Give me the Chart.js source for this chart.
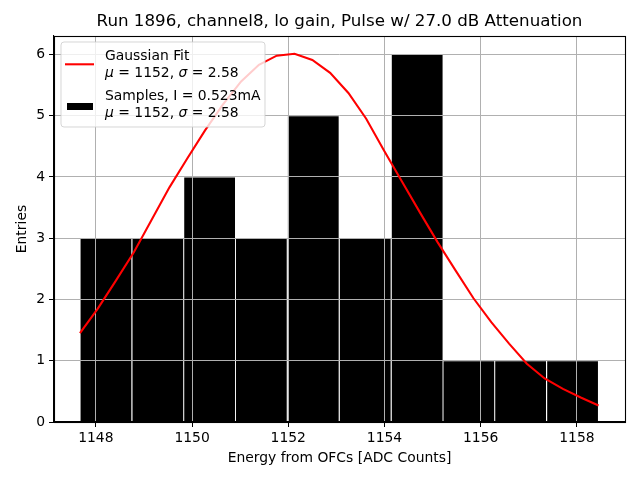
<!DOCTYPE html>
<html><head><meta charset="utf-8">
<script src="https://cdn.jsdelivr.net/npm/chart.js@4"></script>
<style>html,body{margin:0;padding:0;background:#fff}</style>
</head><body>
<canvas id="c" width="640" height="480"></canvas>
<script>
const titleText = "Run 1896, channel8, lo gain, Pulse w/ 27.0 dB Attenuation";
const xAxisLabel = "Energy from OFCs [ADC Counts]";
const yAxisLabel = "Entries";
const binEdges = [1147.67, 1148.75, 1149.83, 1150.90, 1151.98, 1153.06, 1154.14, 1155.22, 1156.29, 1157.37, 1158.45];
const binCounts = [3, 3, 4, 3, 5, 3, 6, 1, 1, 1];
const fitX = [1147.67, 1148.04, 1148.41, 1148.79, 1149.16, 1149.53, 1149.90, 1150.27, 1150.64, 1151.02,
              1151.39, 1151.76, 1152.13, 1152.50, 1152.87, 1153.25, 1153.62, 1153.99, 1154.36, 1154.73,
              1155.10, 1155.48, 1155.85, 1156.22, 1156.59, 1156.96, 1157.33, 1157.71, 1158.08, 1158.45];
const fitY = [1.45, 1.85, 2.30, 2.77, 3.30, 3.83, 4.30, 4.76, 5.18, 5.56,
              5.83, 5.98, 6.01, 5.91, 5.70, 5.37, 4.95, 4.43, 3.93, 3.43,
              2.94, 2.47, 2.02, 1.63, 1.28, 0.95, 0.71, 0.54, 0.40, 0.27];
const xTicks = [1148, 1150, 1152, 1154, 1156, 1158];
const yTicks = [0, 1, 2, 3, 4, 5, 6];
const xRange = [1147.13, 1159.0];
const yRange = [0, 6.3];
const legendFitLabel = ["Gaussian Fit", "μ = 1152, σ = 2.58"];
const legendSampleLabel = ["Samples, I = 0.523mA", "μ = 1152, σ = 2.58"];

const FONT = '"DejaVu Sans", sans-serif';
const FS = 13.9;
const barData = binCounts.map((c, i) => ({x: (binEdges[i] + binEdges[i + 1]) / 2, y: c}));
const fitData = fitX.map((x, i) => ({x: x, y: fitY[i]}));

function drawRich(ctx, text, x, y) {
  const parts = text.split(/([μσ])/);
  let cx = x;
  for (const p of parts) {
    if (!p) continue;
    ctx.font = (p === 'μ' || p === 'σ' ? 'italic ' : '') + FS + 'px ' + FONT;
    ctx.fillText(p, cx, y);
    cx += ctx.measureText(p).width;
  }
}

const overlay = {
  id: 'overlay',
  beforeDatasetDraw(chart, args) {
    if (args.index === 0) return false;
  },
  afterDraw(chart) {
    const ctx = chart.ctx;
    const a = chart.chartArea;
    ctx.save();
    ctx.beginPath();
    ctx.rect(a.left, a.top, a.right - a.left, a.bottom - a.top);
    ctx.clip();
    chart.getDatasetMeta(0).controller.draw();
    ctx.restore();
    ctx.save();
    ctx.strokeStyle = '#000';
    ctx.lineWidth = 1.1;
    ctx.strokeRect(Math.round(a.left) + 0.5, Math.round(a.top) + 0.5,
                   Math.round(a.right - a.left), Math.round(a.bottom - a.top));
    ctx.restore();
    ctx.save();
    const lx = 61, ly = 42, lw = 204, lh = 85, r = 3;
    ctx.beginPath();
    ctx.moveTo(lx + r, ly);
    ctx.arcTo(lx + lw, ly, lx + lw, ly + lh, r);
    ctx.arcTo(lx + lw, ly + lh, lx, ly + lh, r);
    ctx.arcTo(lx, ly + lh, lx, ly, r);
    ctx.arcTo(lx, ly, lx + lw, ly, r);
    ctx.closePath();
    ctx.fillStyle = 'rgba(255,255,255,0.8)';
    ctx.fill();
    ctx.strokeStyle = 'rgba(204,204,204,0.8)';
    ctx.lineWidth = 1;
    ctx.stroke();
    ctx.strokeStyle = '#ff0000';
    ctx.lineWidth = 2.08;
    ctx.beginPath();
    ctx.moveTo(65, 64.3);
    ctx.lineTo(94, 64.3);
    ctx.stroke();
    ctx.fillStyle = '#000';
    ctx.fillRect(67, 103, 26, 7);
    ctx.textBaseline = 'alphabetic';
    ctx.textAlign = 'left';
    drawRich(ctx, legendFitLabel[0], 105, 59.5);
    drawRich(ctx, legendFitLabel[1], 105, 76.5);
    drawRich(ctx, legendSampleLabel[0], 105, 99.5);
    drawRich(ctx, legendSampleLabel[1], 105, 116.8);
    ctx.restore();
  }
};

new Chart(document.getElementById('c'), {
  type: 'bar',
  data: {
    datasets: [
      {type: 'line', data: fitData, borderColor: '#ff0000', borderWidth: 2.08,
       pointRadius: 0, tension: 0, fill: false, order: 0},
      {type: 'bar', data: barData, backgroundColor: '#000000', borderColor: '#ffffff',
       borderWidth: 0.8, barPercentage: 1, categoryPercentage: 1, order: 1}
    ]
  },
  options: {
    responsive: false,
    animation: false,
    devicePixelRatio: 1,
    layout: {padding: {left: 0, right: 15, top: 0, bottom: 0}},
    plugins: {
      legend: {display: false},
      tooltip: {enabled: false},
      title: {display: true, text: titleText, fullSize: false, color: '#000',
              font: {family: FONT, size: 16.7, weight: 'normal'},
              padding: {top: 12, bottom: 4}}
    },
    scales: {
      x: {
        type: 'linear', min: xRange[0], max: xRange[1], offset: false,
        afterFit(s) { s.height = 58; },
        afterBuildTicks(s) { s.ticks = xTicks.map(v => ({value: v})); },
        grid: {z: 1, offset: false, color: '#b0b0b0', lineWidth: 1, drawTicks: true, tickLength: 5, tickColor: '#000'},
        border: {z: 1, color: '#000', width: 1.1},
        ticks: {color: '#000', font: {family: FONT, size: FS}, padding: 3, maxRotation: 0,
                callback: v => String(v)},
        title: {display: true, text: xAxisLabel, color: '#000',
                font: {family: FONT, size: FS}, padding: {top: 0, bottom: 13}}
      },
      y: {
        type: 'linear', min: yRange[0], max: yRange[1],
        afterFit(s) { s.width = 54; },
        afterBuildTicks(s) { s.ticks = yTicks.map(v => ({value: v})); },
        grid: {z: 1, offset: false, color: '#b0b0b0', lineWidth: 1, drawTicks: true, tickLength: 5, tickColor: '#000'},
        border: {z: 1, color: '#000', width: 1.1},
        ticks: {color: '#000', font: {family: FONT, size: FS}, padding: 4,
                callback: v => String(v)},
        title: {display: true, text: yAxisLabel, color: '#000',
                font: {family: FONT, size: FS}, padding: {top: 14, bottom: 0}}
      }
    }
  },
  plugins: [overlay]
});
</script>
</body></html>
